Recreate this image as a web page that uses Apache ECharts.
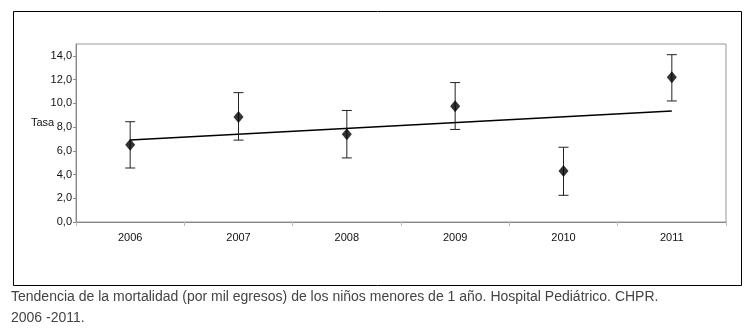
<!DOCTYPE html>
<html><head><meta charset="utf-8">
<script src="https://cdn.jsdelivr.net/npm/echarts@6/dist/echarts.min.js"></script>
<style>html,body{margin:0;padding:0;background:#fff}#c{width:750px;height:328px}</style>
</head><body><div id="c"></div>
<script>
var years = ['2006','2007','2008','2009','2010','2011'];
var rates = [6.5, 8.85, 7.4, 9.75, 4.3, 12.2];
var lower = [4.55, 6.9, 5.4, 7.8, 2.25, 10.2];
var upper = [8.45, 10.9, 9.4, 11.75, 6.3, 14.1];
var trend = [6.92, null, null, null, null, 9.35];
var yTicks = [0, 2, 4, 6, 8, 10, 12, 14];
var caption1 = 'Tendencia de la mortalidad (por mil egresos) de los niños menores de 1 año. Hospital Pediátrico. CHPR.';
var caption2 = '2006 -2011.';

var chart = echarts.init(document.getElementById('c'), null, {renderer:'canvas'});
var font = '"Liberation Sans", Arial, sans-serif';
chart.setOption({
  animation:false,
  grid:{left:76, right:24, top:44, bottom:106, show:true, borderColor:'#999', borderWidth:1, backgroundColor:'transparent'},
  xAxis:{type:'category', data:years, boundaryGap:true,
    axisLine:{lineStyle:{color:'#888'}},
    axisTick:{show:true, alignWithLabel:false, length:4, lineStyle:{color:'#bbb'}},
    axisLabel:{color:'#111', fontFamily:font, fontSize:11, margin:10}},
  yAxis:{type:'value', min:0, max:15, interval:2,
    splitLine:{show:false},
    axisLine:{show:true, lineStyle:{color:'#888'}},
    axisTick:{show:true, length:3, lineStyle:{color:'#888'}},
    axisLabel:{color:'#111', fontFamily:font, fontSize:11, margin:4, showMaxLabel:false,
      formatter:function(v){ return yTicks.indexOf(v)>=0 ? v.toFixed(1).replace('.',',') : ''; }}},
  graphic:[
    {type:'rect', left:11, top:9, shape:{width:728, height:274}, style:{fill:'none', stroke:'#000', lineWidth:1}, silent:true, z:-1},
    {type:'text', left:31, top:117, style:{text:'Tasa', fill:'#111', font:'11px '+font}},
    {type:'text', left:11, top:290, style:{text:caption1, fill:'#444', font:'14px '+font}},
    {type:'text', left:11, top:311, style:{text:caption2, fill:'#444', font:'14px '+font}}
  ],
  series:[
    {type:'line', data:trend, connectNulls:true, symbol:'none', lineStyle:{color:'#000', width:1.5}, z:2},
    {type:'custom', z:3,
      data: years.map(function(y,i){ return [i, lower[i], upper[i]]; }),
      renderItem:function(params, api){
        var lo = api.coord([api.value(0), api.value(1)]);
        var hi = api.coord([api.value(0), api.value(2)]);
        var w = 5;
        var st = {stroke:'#222', lineWidth:1};
        return {type:'group', children:[
          {type:'line', shape:{x1:lo[0], y1:lo[1], x2:hi[0], y2:hi[1]}, style:st},
          {type:'line', shape:{x1:lo[0]-w, y1:lo[1], x2:lo[0]+w, y2:lo[1]}, style:st},
          {type:'line', shape:{x1:hi[0]-w, y1:hi[1], x2:hi[0]+w, y2:hi[1]}, style:st}
        ]};
      }},
    {type:'scatter', data:rates, symbol:'diamond', symbolSize:[10,12], itemStyle:{color:'#000'}, z:4}
  ]
});
</script></body></html>
